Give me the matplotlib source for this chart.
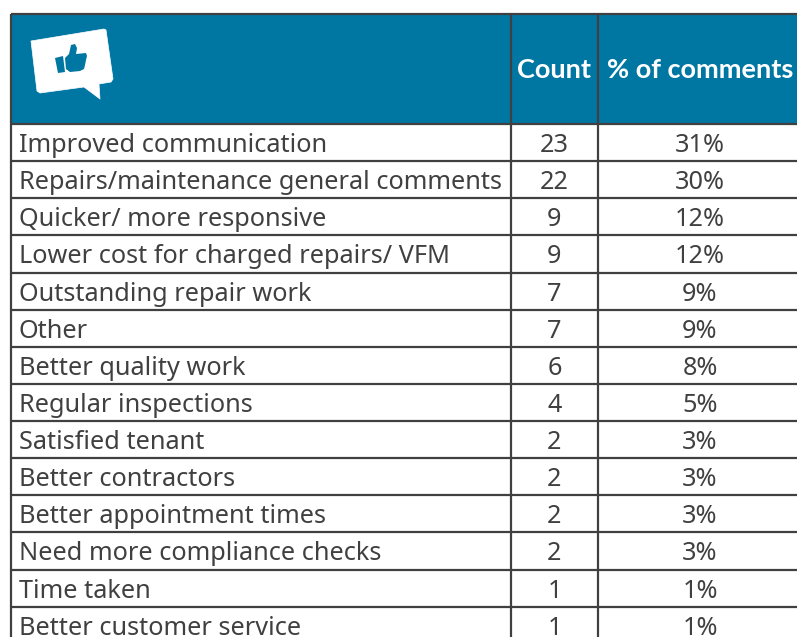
import matplotlib
matplotlib.use('Agg')
import matplotlib.pyplot as plt
from matplotlib.patches import Polygon, Rectangle

# Table contents
labels = ["Improved communication", "Repairs/maintenance general comments",
          "Quicker/ more responsive", "Lower cost for charged repairs/ VFM",
          "Outstanding repair work", "Other", "Better quality work",
          "Regular inspections", "Satisfied tenant", "Better contractors",
          "Better appointment times", "Need more compliance checks",
          "Time taken", "Better customer service"]
counts = [23, 22, 9, 9, 7, 7, 6, 4, 2, 2, 2, 2, 1, 1]
percents = [31, 30, 12, 12, 9, 9, 8, 5, 3, 3, 3, 3, 1, 1]
headers = ["Count", "% of comments"]

W, H = 797, 637
BLUE = "#0076A3"
LINE = "#404040"
TEXT = "#404040"
FONT = "Noto Sans"
HEAD_FONT = "Lato"
SIZE = 18.2
HEAD_SIZE = 19.5

LEFT, COL1, COL2 = 11, 511, 598.5
TOP, HEAD = 14, 124
ROW = 37.13

fig = plt.figure(figsize=(W / 100, H / 100), dpi=100)
ax = fig.add_axes([0, 0, 1, 1])
ax.set_xlim(0, W)
ax.set_ylim(H, 0)
ax.axis('off')

ax.add_patch(Rectangle((LEFT, TOP), W - LEFT, HEAD - TOP, fc=BLUE, ec='none', zorder=1))

# Grid lines
for i in range(len(labels) + 1):
    y = HEAD + i * ROW
    ax.plot([LEFT, W], [y, y], color=LINE, lw=1.6, zorder=3, solid_capstyle='butt')
ax.plot([LEFT, W], [TOP, TOP], color=LINE, lw=1.6, zorder=3, solid_capstyle='butt')
for x in (LEFT, COL1, COL2):
    ax.plot([x, x], [TOP, H], color=LINE, lw=1.6, zorder=3, solid_capstyle='butt')

# Header text
ax.text(554.5, 68.5, headers[0], color='white', fontsize=HEAD_SIZE, fontweight='bold',
        family=HEAD_FONT, ha='center', va='center_baseline', zorder=4)
ax.text(700, 68.5, headers[1], color='white', fontsize=HEAD_SIZE, fontweight='bold',
        family=HEAD_FONT, ha='center', va='center_baseline', zorder=4)

# Rows
for i, (lab, c, p) in enumerate(zip(labels, counts, percents)):
    y = HEAD + (i + 0.5) * ROW
    ax.text(19, y, lab, color=TEXT, fontsize=SIZE, family=FONT, ha='left', va='center_baseline', zorder=4)
    ax.text(554.5, y, str(c), color=TEXT, fontsize=SIZE, family=FONT,
            ha='center', va='center_baseline', zorder=4)
    ax.text(700, y, f"{p}%", color=TEXT, fontsize=SIZE, family=FONT,
            ha='center', va='center_baseline', zorder=4)

# Speech bubble icon
bubble = [(31, 41), (104, 29), (106, 30), (113, 79), (111, 82), (99, 84), (100, 99),
          (84, 87), (40, 93), (37, 91)]
ax.add_patch(Polygon(bubble, closed=True, fc='white', ec='white', lw=0.5, joinstyle='round', zorder=5))
cuff = [(55, 58), (63, 56), (65, 72), (58, 73)]
ax.add_patch(Polygon(cuff, closed=True, fc=BLUE, ec='none', zorder=6))
thumb = [(65, 58), (69, 54), (71, 45), (75, 44), (77, 48), (76, 54), (86, 53), (87, 56),
         (86, 60), (85, 65), (84, 69), (80, 71), (70, 72), (66, 69)]
ax.add_patch(Polygon(thumb, closed=True, fc=BLUE, ec='none', zorder=6))

fig.savefig("out.png", dpi=100)
